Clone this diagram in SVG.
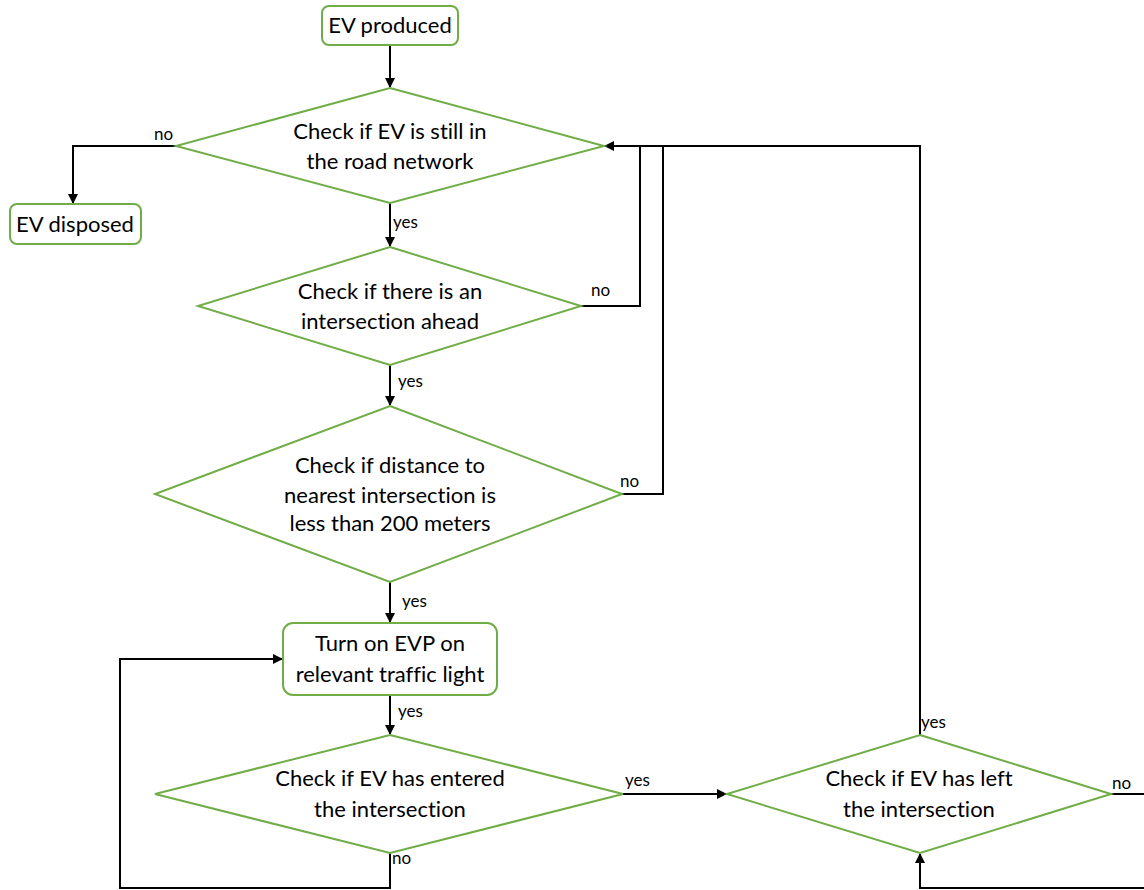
<svg xmlns="http://www.w3.org/2000/svg" width="1144" height="890" viewBox="0 0 1144 890">
  <style>
    .node { fill: #ffffff; stroke: #70ad47; stroke-width: 2; }
    .txt { font-family: Lato, "Liberation Sans", sans-serif; font-size: 22px; fill: #000; text-anchor: middle; font-variant-ligatures: none; }
    .lbl { font-family: Lato, "Liberation Sans", sans-serif; font-size: 17px; fill: #000; }
    .edge { fill: none; stroke: #000; stroke-width: 2; }
  </style>
  <defs>
    <marker id="arrow" markerWidth="10" markerHeight="10" refX="9" refY="5" orient="auto" markerUnits="userSpaceOnUse">
      <path d="M0,0 L10,5 L0,10 Z" fill="#000"/>
    </marker>
  </defs>
  <rect width="1144" height="890" fill="#fff"/>

  <!-- connectors -->
  <g id="connectors">
    <path class="edge" d="M390,45 V87" marker-end="url(#arrow)"/>
    <path class="edge" d="M176,146 H73 V203" marker-end="url(#arrow)"/>
    <path class="edge" d="M390,203 V246" marker-end="url(#arrow)"/>
    <path class="edge" d="M581,306 H640 V146"/>
    <path class="edge" d="M390,365 V405" marker-end="url(#arrow)"/>
    <path class="edge" d="M622,494 H663 V146"/>
    <path class="edge" d="M920,735 V146 H605" marker-end="url(#arrow)"/>
    <path class="edge" d="M390,582 V622" marker-end="url(#arrow)"/>
    <path class="edge" d="M390,695 V734" marker-end="url(#arrow)"/>
    <path class="edge" d="M390,853 V888 H120 V659 H282" marker-end="url(#arrow)"/>
    <path class="edge" d="M623,794 H726" marker-end="url(#arrow)"/>
    <path class="edge" d="M1111,794 H1150 V888 H920 V854" marker-end="url(#arrow)"/>

    <text class="lbl" x="154" y="140">no</text>
    <text class="lbl" x="393" y="228">yes</text>
    <text class="lbl" x="591" y="296">no</text>
    <text class="lbl" x="398" y="387">yes</text>
    <text class="lbl" x="620" y="487">no</text>
    <text class="lbl" x="402" y="607">yes</text>
    <text class="lbl" x="398" y="717">yes</text>
    <text class="lbl" x="392" y="864">no</text>
    <text class="lbl" x="625" y="786">yes</text>
    <text class="lbl" x="921" y="728">yes</text>
    <text class="lbl" x="1112" y="789">no</text>
  </g>

  <!-- nodes -->
  <g id="ev-produced">
    <rect class="node" x="322" y="6" width="136" height="39" rx="7"/>
    <text class="txt" x="390" y="33">EV produced</text>
  </g>
  <g id="still-in-network">
    <polygon class="node" points="390,88 604,146 390,203 176,146"/>
    <text class="txt" x="390" y="139">Check if EV is still in</text>
    <text class="txt" x="390" y="169">the road network</text>
  </g>
  <g id="ev-disposed">
    <rect class="node" x="10" y="204" width="131" height="40" rx="7"/>
    <text class="txt" x="75" y="232">EV disposed</text>
  </g>
  <g id="intersection-ahead">
    <polygon class="node" points="390,247 581,306 390,365 198,306"/>
    <text class="txt" x="390" y="299">Check if there is an</text>
    <text class="txt" x="390" y="329">intersection ahead</text>
  </g>
  <g id="distance-check">
    <polygon class="node" points="390,406 622,494 390,582 155,494"/>
    <text class="txt" x="390" y="473">Check if distance to</text>
    <text class="txt" x="390" y="503">nearest intersection is</text>
    <text class="txt" x="390" y="531">less than 200 meters</text>
  </g>
  <g id="turn-on-evp">
    <rect class="node" x="283" y="623" width="214" height="72" rx="10"/>
    <text class="txt" x="390" y="651">Turn on EVP on</text>
    <text class="txt" x="390" y="682">relevant traffic light</text>
  </g>
  <g id="entered-intersection">
    <polygon class="node" points="390,735 623,794 390,853 155,794"/>
    <text class="txt" x="390" y="786">Check if EV has entered</text>
    <text class="txt" x="390" y="817">the intersection</text>
  </g>
  <g id="left-intersection">
    <polygon class="node" points="920,735 1111,794 920,853 727,794"/>
    <text class="txt" x="919" y="786">Check if EV has left</text>
    <text class="txt" x="919" y="817">the intersection</text>
  </g>
</svg>
